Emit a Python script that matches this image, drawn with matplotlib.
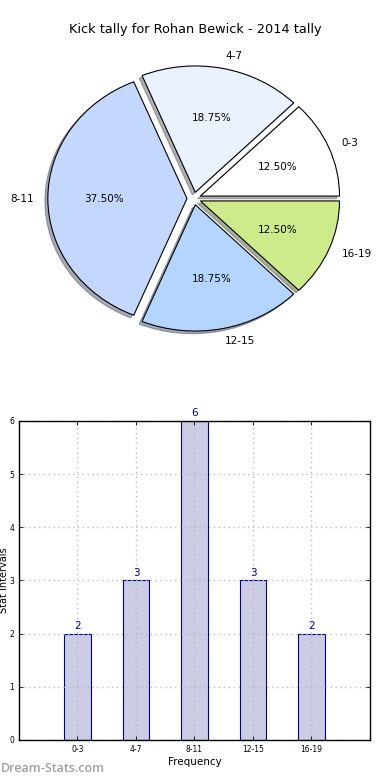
import matplotlib
matplotlib.use("Agg")
import matplotlib.pyplot as plt

categories = ["0-3", "4-7", "8-11", "12-15", "16-19"]
counts = [2, 3, 6, 3, 2]
pie_colors = ["#FFFFFF", "#EAF1FF", "#C4D8FF", "#B3D5FF", "#CDEB8B"]
title = "Kick tally for Rohan Bewick - 2014 tally"

fig = plt.figure(figsize=(3.9, 7.8), dpi=100)

# Pie
ax1 = fig.add_axes([0.0513, 0.543, 0.892, 0.405])
wedges, texts, autotexts = ax1.pie(
    counts, labels=categories, colors=pie_colors, explode=[0.05] * len(counts),
    autopct="%1.2f%%", shadow={"ox": -0.015, "oy": -0.015, "shade": 0.6}, startangle=0,
    wedgeprops={"edgecolor": "black", "linewidth": 0.8},
    textprops={"fontsize": 7.5})
ax1.set_aspect("auto")
ax1.set_xlim(-1.25, 1.25)
ax1.set_ylim(-1.25, 1.25)
fig.text(0.5, 1 - 30 / 780, title, ha="center", va="center", fontsize=9.3)

# Bar
ax2 = fig.add_axes([0.0487, 0.0513, 0.9, 0.409])
x = list(range(len(categories)))
ax2.bar(x, counts, width=0.45, color="#CCCCE5", edgecolor="#00008B", linewidth=0.8, zorder=2)
for xi, v in zip(x, counts):
    ax2.text(xi, v + 0.05, str(v), ha="center", va="bottom", color="#00008B", fontsize=7.5)
ax2.set_xlim(-1, 5)
ax2.set_ylim(0, 6)
ax2.set_xticks(x)
ax2.set_xticklabels(categories)
ax2.set_yticks(range(0, 7))
ax2.tick_params(direction="in", top=True, right=True, labelsize=5.5, length=3, width=0.6)
ax2.grid(True, linestyle=(0, (1, 2.5)), color="#BBBBBB", linewidth=1.0, zorder=3)
ax2.set_axisbelow(False)
for sp in ax2.spines.values():
    sp.set_linewidth(1.0)
    sp.set_zorder(5)
ax2.set_xlabel("Frequency", fontsize=7.5, labelpad=2)
fig.text(4.5 / 390, 1 - 580 / 780, "Stat Intervals", rotation=90, ha="center", va="center", fontsize=7)
fig.text(1 / 390, 1 - 769 / 780, "Dream-Stats.com", ha="left", va="center", fontsize=9,
         color="#A0A0A0", family="Open Sans", fontweight="semibold")

fig.savefig("out.png", dpi=100)
